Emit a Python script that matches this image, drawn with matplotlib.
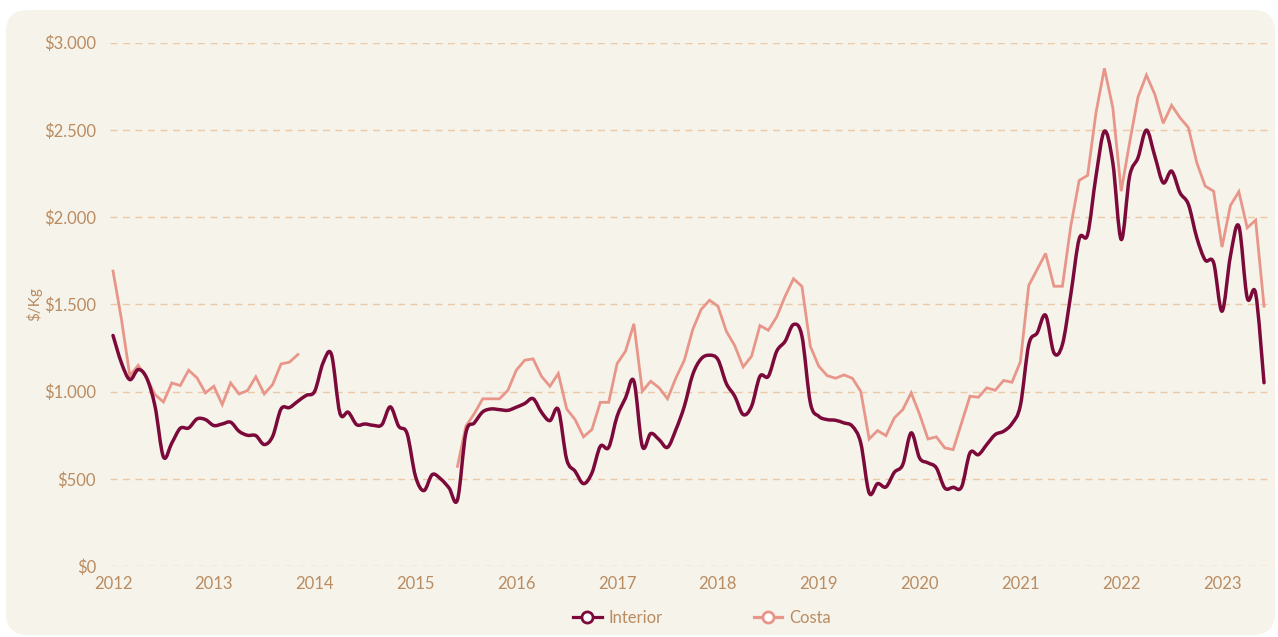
import matplotlib
matplotlib.use("Agg")
import matplotlib.pyplot as plt
import numpy as np
from matplotlib.patches import FancyBboxPatch, PathPatch
from matplotlib.path import Path
from matplotlib.lines import Line2D
from matplotlib.ticker import FuncFormatter
from matplotlib.transforms import IdentityTransform

nan = np.nan

# monthly prices, Jan 2012 .. Jun 2023
years = list(range(2012, 2024))

interior = [
    1321, 1164, 1068, 1126, 1078, 915, 625, 705, 789, 791, 843, 839,      # 2012
    805, 814, 824, 772, 749, 747, 696, 743, 900, 908, 944, 978,           # 2013
    1001, 1164, 1212, 877, 881, 810, 814, 806, 810, 912, 801, 759,        # 2014
    514, 432, 524, 499, 447, 380, 763, 820, 883, 900, 896, 892,           # 2015
    910, 931, 959, 881, 833, 896, 610, 543, 472, 533, 686, 680,           # 2016
    858, 963, 1059, 686, 759, 724, 680, 782, 915, 1097, 1187, 1208,       # 2017
    1183, 1046, 973, 868, 915, 1087, 1087, 1231, 1288, 1384, 1317, 935,   # 2018
    858, 839, 835, 820, 801, 705, 419, 472, 453, 537, 581, 763,           # 2019
    619, 591, 562, 447, 451, 453, 648, 638, 696, 753, 772, 816,           # 2020
    920, 1269, 1336, 1437, 1221, 1269, 1556, 1875, 1900, 2234, 2492, 2311,  # 2021
    1871, 2234, 2340, 2498, 2349, 2196, 2263, 2139, 2072, 1881, 1753, 1738,  # 2022
    1460, 1776, 1948, 1537, 1562, 1050,                                   # 2023
]

costa = [
    1690, 1415, 1090, 1150, 1078, 982, 940, 1049, 1034, 1122, 1078, 992,  # 2012
    1030, 925, 1049, 986, 1005, 1084, 986, 1040, 1158, 1168, 1212, nan,   # 2013
    nan, nan, nan, nan, nan, nan, nan, nan, nan, nan, nan, nan,           # 2014
    nan, nan, nan, nan, nan, 571, 801, 873, 958, 958, 958, 1007,          # 2015
    1122, 1179, 1187, 1087, 1030, 1103, 900, 839, 740, 782, 938, 938,     # 2016
    1160, 1231, 1388, 1001, 1059, 1021, 958, 1078, 1179, 1355, 1470, 1523,  # 2017
    1489, 1345, 1263, 1141, 1202, 1378, 1351, 1428, 1546, 1646, 1602, 1259,  # 2018
    1145, 1091, 1076, 1095, 1076, 1001, 728, 776, 747, 849, 896, 992,     # 2019
    870, 728, 740, 677, 667, 820, 973, 967, 1021, 1007, 1063, 1053,       # 2020
    1170, 1608, 1699, 1791, 1603, 1603, 1948, 2210, 2238, 2598, 2852, 2627,  # 2021
    2148, 2426, 2688, 2813, 2703, 2537, 2640, 2569, 2512, 2311, 2177, 2148,  # 2022
    1828, 2066, 2145, 1938, 1982, 1489,                                   # 2023
]

C_INT = "#7b0a3b"
C_COSTA = "#e8968a"
C_TEXT = "#b98c62"
C_GRID = "#ecc9a6"
C_BG = "#f6f3ea"

plt.rcParams["font.family"] = ["Lato", "DejaVu Sans"]


def spline_path(x, y):
    # smooth curve through every point (cubic bezier, catmull-rom style)
    pts = np.column_stack([x, y]).astype(float)
    n = len(pts)
    verts = [pts[0]]
    codes = [Path.MOVETO]
    for i in range(n - 1):
        p0 = pts[max(i - 1, 0)]
        p1 = pts[i]
        p2 = pts[i + 1]
        p3 = pts[min(i + 2, n - 1)]
        c1 = p1 + (p2 - p0) / 6.0
        c2 = p2 - (p3 - p1) / 6.0
        verts += [c1, c2, p2]
        codes += [Path.CURVE4] * 3
    return Path(verts, codes)


fig = plt.figure(figsize=(12.78, 6.37), dpi=100)
fig.patch.set_facecolor("white")
panel = FancyBboxPatch((6, 2), 1269, 625, boxstyle="round,pad=0,rounding_size=22",
                       transform=IdentityTransform(), facecolor=C_BG, edgecolor="none",
                       zorder=-5)
fig.patches.append(panel)

ax = fig.add_axes([110 / 1278, 1 - 566 / 637, 1161 / 1278, (566 - 42.5) / 637])
ax.set_facecolor("none")

x = np.arange(len(interior))
ax.add_patch(PathPatch(spline_path(x, interior), facecolor="none", edgecolor=C_INT,
                       lw=2.5, capstyle="round", joinstyle="round", zorder=3))
ax.plot(x, costa, color=C_COSTA, lw=2.0, zorder=2, solid_joinstyle="miter")

ax.set_xlim(-0.36, len(interior) - 1 + 0.83)
ax.set_ylim(0, 3000)
ax.set_yticks(np.arange(0, 3001, 500))
ax.yaxis.set_major_formatter(FuncFormatter(lambda v, p: "$" + f"{int(v):,}".replace(",", ".")))
ax.set_xticks(np.arange(0, len(interior), 12))
ax.set_xticklabels([str(y) for y in years])

ax.grid(axis="y", color=C_GRID, linestyle=(0, (5, 4)), lw=1.0)
ax.set_axisbelow(True)
for s in ax.spines.values():
    s.set_visible(False)
ax.tick_params(length=0, colors=C_TEXT, labelsize=12)
ax.tick_params(axis="y", pad=10)
ax.tick_params(axis="x", pad=7)
ax.set_ylabel("$/Kg", color=C_TEXT, fontsize=11)
ax.yaxis.set_label_coords(-0.058, 0.5)

handles = [
    Line2D([], [], color=C_INT, lw=2.3, marker="o", markersize=8,
           markerfacecolor="white", markeredgecolor=C_INT, markeredgewidth=2),
    Line2D([], [], color=C_COSTA, lw=2.3, marker="o", markersize=8,
           markerfacecolor="white", markeredgecolor=C_COSTA, markeredgewidth=2),
]
fig.legend(handles, ["Interior", "Costa"], loc="center", bbox_to_anchor=(702 / 1278, 1 - 618 / 637),
           ncol=2, frameon=False, fontsize=12, labelcolor=C_TEXT, handlelength=1.7,
           handletextpad=0.4, columnspacing=5.5)

fig.savefig("out.png", dpi=100, facecolor=fig.get_facecolor())
